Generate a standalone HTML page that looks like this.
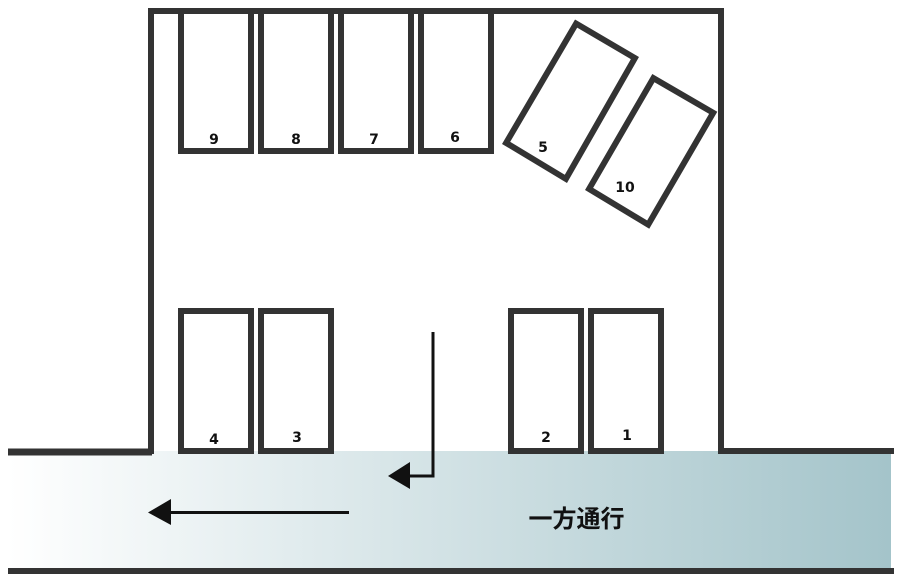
<!DOCTYPE html>
<html><head><meta charset="utf-8">
<style>html,body{margin:0;padding:0;background:#fff}svg{display:block}
.n{font-family:"DejaVu Sans",sans-serif;font-weight:bold;font-size:14px;fill:#111;text-anchor:middle}
.t{font-family:"Liberation Sans","Noto Sans CJK JP",sans-serif;font-weight:700;font-size:24px;fill:#111;text-anchor:middle}</style></head>
<body>
<svg xmlns="http://www.w3.org/2000/svg" width="901" height="580" viewBox="0 0 901 580">
<defs><linearGradient id="g" x1="0" x2="1" y1="0" y2="0"><stop offset="0" stop-color="#ffffff"/><stop offset="1" stop-color="#a4c4ca"/></linearGradient></defs>
<rect width="901" height="580" fill="#fff"/>
<rect x="8" y="451" width="883" height="118" fill="url(#g)"/>
<g fill="none" stroke="#333" stroke-width="6" stroke-miterlimit="10">
<path d="M151 454V11H721V451H894"/>
<path d="M8 571H894"/>
<path d="M8 452H152" stroke-width="7"/>
<rect x="181" y="11" width="70" height="140"/>
<rect x="261" y="11" width="70" height="140"/>
<rect x="341" y="11" width="70" height="140"/>
<rect x="421" y="11" width="70" height="140"/>
<rect x="181" y="311" width="70" height="140"/>
<rect x="261" y="311" width="70" height="140"/>
<rect x="511" y="311" width="70" height="140"/>
<rect x="591" y="311" width="70" height="140"/>
<polygon points="576.1,23.6 634.9,58.1 565.9,178.9 506.1,142.9"/>
<polygon points="653.4,78.1 713.2,112.8 648.2,224.6 589.1,188.9"/>
</g>
<g fill="none" stroke="#111" stroke-width="3">
<path d="M433 332V476H408"/>
<path d="M349 512.5H168"/>
</g>
<polygon points="388,476 410,462 410,489" fill="#111"/>
<polygon points="148,512.5 171,499 171,525" fill="#111"/>
<text class="n" x="214" y="144">9</text>
<text class="n" x="296" y="144">8</text>
<text class="n" x="374" y="144">7</text>
<text class="n" x="455" y="142">6</text>
<text class="n" x="543" y="152">5</text>
<text class="n" x="625" y="192">10</text>
<text class="n" x="214" y="444">4</text>
<text class="n" x="297" y="442">3</text>
<text class="n" x="546" y="442">2</text>
<text class="n" x="627" y="440">1</text>
<text class="t" x="576.5" y="527">一方通行</text>
</svg>
</body></html>
